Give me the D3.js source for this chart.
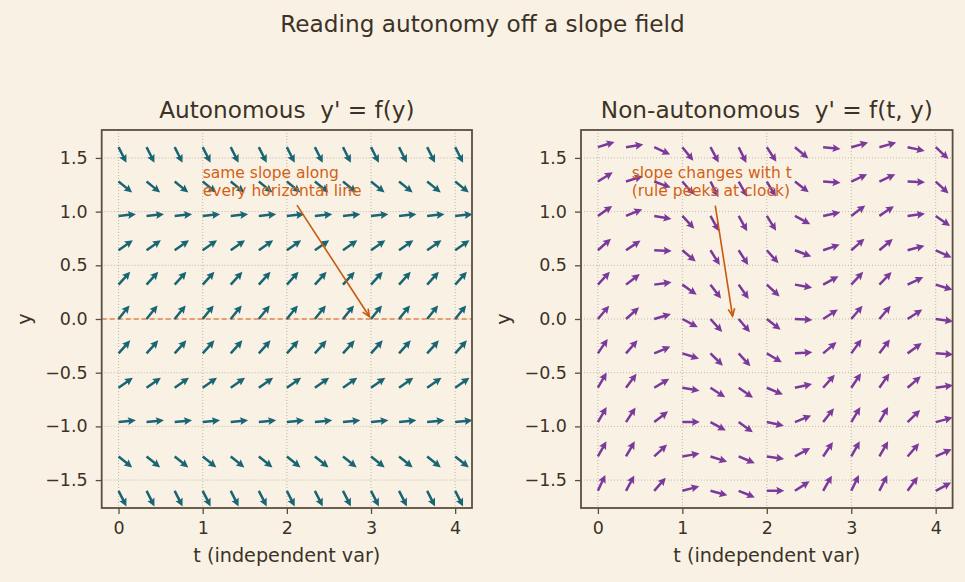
<!DOCTYPE html>
<html>
<head>
<meta charset="utf-8">
<script src="https://cdn.jsdelivr.net/npm/d3@7"></script>
<style>
  body { margin: 0; background: #f9f2e4; }
  text { font-family: "DejaVu Sans", sans-serif; fill: #3c3228; }
</style>
</head>
<body>
<div id="chart"></div>
<script>
// grid where the arrows sit
var tGrid = [0, 0.333, 0.667, 1, 1.333, 1.667, 2, 2.333, 2.667, 3, 3.333, 3.667, 4];
var yGrid = [1.6, 1.28, 0.96, 0.64, 0.32, 0, -0.32, -0.64, -0.96, -1.28, -1.6];

// autonomous: one slope per row (same along every horizontal line)
var slopeAuto = [-1.55, -0.63, 0.08, 0.55, 0.87, 0.97, 0.87, 0.55, 0.08, -0.63, -1.55];

// non-autonomous: slope per row (top to bottom), one value per t column
var slopeNonAuto = [
  [0.25, 0.12, -0.36, -0.97, -1.47, -1.61, -1.21, -0.66, -0.08, 0.22, 0.22, -0.17, -0.73],
  [0.49, 0.25, -0.29, -0.90, -1.54, -1.41, -1.30, -0.61, -0.05, 0.36, 0.36, -0.03, -0.73],
  [0.55, 0.33, -0.14, -0.84, -1.41, -1.41, -1.25, -0.43, 0.17, 0.59, 0.53, 0.10, -0.55],
  [0.70, 0.53, -0.03, -0.66, -1.25, -1.21, -0.87, -0.30, 0.27, 0.68, 0.66, 0.21, -0.36],
  [0.84, 0.61, 0.11, -0.55, -1.04, -1.12, -0.73, -0.14, 0.43, 0.84, 0.81, 0.38, -0.24],
  [0.93, 0.70, 0.24, -0.42, -0.87, -0.93, -0.61, -0.04, 0.51, 0.93, 0.93, 0.51, -0.11],
  [1.16, 0.90, 0.33, -0.25, -0.78, -0.87, -0.47, 0.05, 0.66, 1.08, 1.04, 0.57, -0.05],
  [1.36, 1.04, 0.47, -0.14, -0.51, -0.55, -0.33, 0.17, 0.87, 1.16, 1.12, 0.68, 0.11],
  [1.36, 1.21, 0.61, 0.00, -0.43, -0.57, -0.17, 0.32, 1.00, 1.30, 1.36, 0.76, 0.21],
  [1.41, 1.36, 0.73, 0.14, -0.25, -0.33, -0.11, 0.43, 1.16, 1.41, 1.36, 0.90, 0.36],
  [1.68, 1.47, 0.90, 0.21, -0.21, -0.32, 0.00, 0.51, 1.36, 1.61, 1.54, 1.08, 0.42]
];

var xTicks = [0, 1, 2, 3, 4];
var yTicks = [-1.5, -1, -0.5, 0, 0.5, 1, 1.5];

var titles = ["Autonomous  y' = f(y)", "Non-autonomous  y' = f(t, y)"];
var noteLines = [["same slope along", "every horizontal line"], ["slope changes with t", "(rule peeks at clock)"]];
var noteText = [[1.0, 1.15], [0.4, 1.15]];     // text anchor (t, y)
var noteFrom = [[2.12, 1.06], [1.39, 1.055]];  // arrow start (t, y)
var noteTo = [[3.0, 0.0], [1.6, 0.0]];         // arrow target (t, y)

var W = 965, H = 582;
var plotTop = 130, plotBottom = 508;
var panels = [{ left: 101.7, right: 472 }, { left: 581, right: 952.6 }];
var arrowColors = ["#1a6573", "#7b3a9b"];
var noteColor = "#d35f16";

var svg = d3.select("#chart").append("svg")
    .attr("width", W).attr("height", H);
svg.append("rect").attr("width", W).attr("height", H).attr("fill", "#f9f2e4");

svg.append("text")
    .attr("x", W / 2).attr("y", 32)
    .attr("text-anchor", "middle")
    .style("font-size", "23.2px")
    .text("Reading autonomy off a slope field");

// quiver arrow in local coords, pointing along +x
var L = 17.5, sw = 1.25, hw = 4.0, hl = 8, hal = 7;
var arrowShape = [[0, -sw], [L - hal, -sw], [L - hl, -hw], [L, 0], [L - hl, hw], [L - hal, sw], [0, sw]]
    .map(function(p) { return p.join(","); }).join(" ");

function drawPanel(k, slopeAt) {
    var p = panels[k];
    var x = d3.scaleLinear().domain([-0.2, 4.2]).range([p.left, p.right]);
    var y = d3.scaleLinear().domain([-1.76, 1.76]).range([plotBottom, plotTop]);
    var g = svg.append("g");

    // dotted grid
    g.selectAll("line.gx").data(xTicks).enter().append("line")
        .attr("x1", function(d) { return x(d); }).attr("x2", function(d) { return x(d); })
        .attr("y1", plotTop).attr("y2", plotBottom)
        .attr("stroke", "#b9b1a2").attr("stroke-width", 0.9).attr("stroke-dasharray", "1,2");
    g.selectAll("line.gy").data(yTicks).enter().append("line")
        .attr("y1", function(d) { return y(d); }).attr("y2", function(d) { return y(d); })
        .attr("x1", p.left).attr("x2", p.right)
        .attr("stroke", "#b9b1a2").attr("stroke-width", 0.9).attr("stroke-dasharray", "1,2");

    if (k === 0) {
        g.append("line")
            .attr("x1", p.left).attr("x2", p.right)
            .attr("y1", y(0)).attr("y2", y(0))
            .attr("stroke", "#e2844f").attr("stroke-width", 1.4)
            .attr("stroke-dasharray", "5,3");
    }

    // arrows
    var cells = [];
    yGrid.forEach(function(yv, i) {
        tGrid.forEach(function(tv, j) {
            cells.push({ t: tv, y: yv, s: slopeAt(i, j) });
        });
    });
    g.selectAll("polygon.q").data(cells).enter().append("polygon")
        .attr("points", arrowShape)
        .attr("fill", arrowColors[k])
        .attr("transform", function(d) {
            var dx = x(d.t + 1) - x(d.t);
            var dy = y(d.y + d.s) - y(d.y);
            var a = Math.atan2(dy, dx) * 180 / Math.PI;
            return "translate(" + x(d.t) + "," + y(d.y) + ") rotate(" + a + ")";
        });

    // axes
    var xa = g.append("g").attr("transform", "translate(0," + plotBottom + ")")
        .call(d3.axisBottom(x).tickValues(xTicks).tickSize(6).tickPadding(8).tickFormat(d3.format("d")));
    var ya = g.append("g").attr("transform", "translate(" + p.left + ",0)")
        .call(d3.axisLeft(y).tickValues(yTicks).tickSize(6).tickPadding(8).tickFormat(d3.format(".1f")));
    [xa, ya].forEach(function(a) {
        a.select(".domain").remove();
        a.selectAll(".tick line").attr("stroke", "#5a4e40").attr("stroke-width", 1.3);
        a.selectAll(".tick text").style("font-size", "17.5px").attr("fill", "#3c3228")
            .style("font-family", "'DejaVu Sans', sans-serif");
    });

    // frame
    g.append("rect")
        .attr("x", p.left).attr("y", plotTop)
        .attr("width", p.right - p.left).attr("height", plotBottom - plotTop)
        .attr("fill", "none").attr("stroke", "#5a4e40").attr("stroke-width", 1.8);

    // titles and labels
    var cx = (p.left + p.right) / 2;
    g.append("text").attr("x", cx).attr("y", 118)
        .attr("text-anchor", "middle").style("font-size", "23.2px")
        .style("white-space", "pre").text(titles[k]);
    g.append("text").attr("x", cx).attr("y", 562)
        .attr("text-anchor", "middle").style("font-size", "19.2px")
        .text("t (independent var)");
    g.append("text")
        .attr("transform", "translate(" + (p.left - 71) + "," + y(0) + ") rotate(-90)")
        .attr("text-anchor", "middle").style("font-size", "19.2px")
        .text("y");

    // annotation
    var nt = g.append("text")
        .attr("x", x(noteText[k][0])).attr("y", y(noteText[k][1]))
        .style("font-size", "15.5px").style("fill", noteColor);
    noteLines[k].forEach(function(line, li) {
        nt.append("tspan")
            .attr("x", x(noteText[k][0]))
            .attr("dy", li === 0 ? "-1.15em" : "1.15em")
            .style("fill", noteColor)
            .text(line);
    });
    var x1 = x(noteFrom[k][0]), y1 = y(noteFrom[k][1]);
    var tx = x(noteTo[k][0]), ty = y(noteTo[k][1]);
    var ang = Math.atan2(ty - y1, tx - x1);
    var x2 = tx - 3 * Math.cos(ang), y2 = ty - 3 * Math.sin(ang);
    var ac = "#c8580e";
    g.append("line").attr("x1", x1).attr("y1", y1).attr("x2", x2).attr("y2", y2)
        .attr("stroke", ac).attr("stroke-width", 1.6);
    var hlen = 8, spread = 0.42;
    g.append("path")
        .attr("d", "M" + (x2 - hlen * Math.cos(ang - spread)) + "," + (y2 - hlen * Math.sin(ang - spread)) +
            "L" + x2 + "," + y2 +
            "L" + (x2 - hlen * Math.cos(ang + spread)) + "," + (y2 - hlen * Math.sin(ang + spread)))
        .attr("fill", "none").attr("stroke", ac).attr("stroke-width", 1.6);
}

drawPanel(0, function(i, j) { return slopeAuto[i]; });
drawPanel(1, function(i, j) { return slopeNonAuto[i][j]; });
</script>
</body>
</html>
